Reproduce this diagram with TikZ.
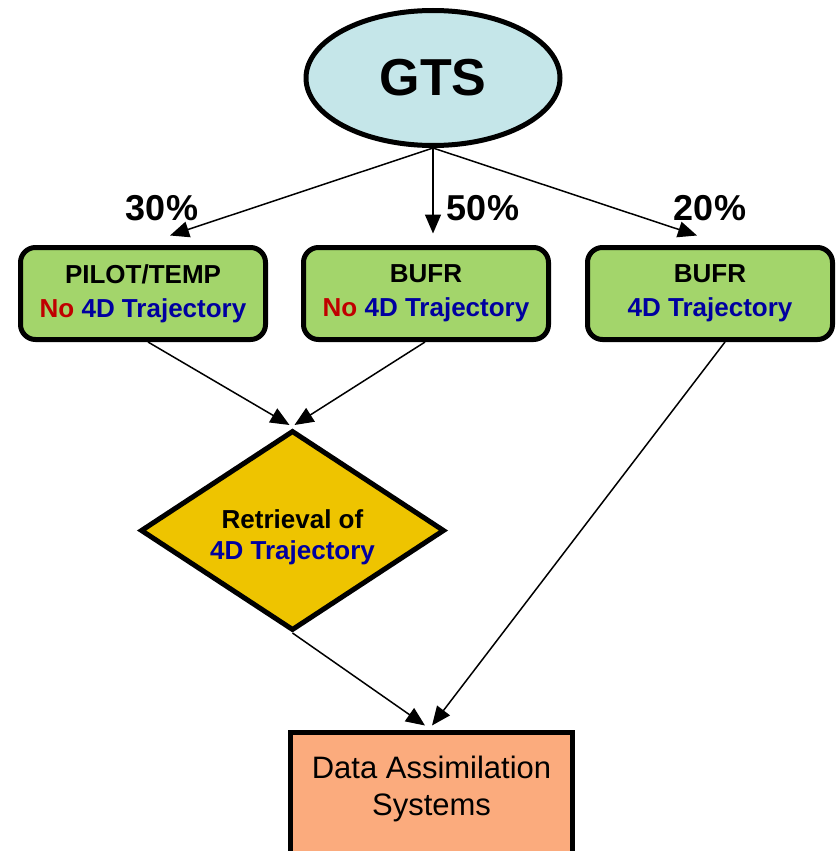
\documentclass[tikz,border=0pt]{standalone}
\usepackage{fontspec}
\setmainfont{Liberation Sans}
\usetikzlibrary{shapes.geometric,arrows.meta}

\definecolor{gtsfill}{HTML}{C5E6E9}
\definecolor{boxgreen}{HTML}{A3D56B}
\definecolor{diagold}{HTML}{EEC400}
\definecolor{dasfill}{HTML}{FBAB7D}
\definecolor{nored}{HTML}{C00000}
\definecolor{trajblue}{HTML}{0000A0}

\newcommand{\nored}[1]{\textcolor{nored}{#1}}
\newcommand{\trajblue}[1]{\textcolor{trajblue}{#1}}

\tikzset{
  x=1pt, y=-1pt,
  srcbox/.style={draw, line width=5pt, fill=boxgreen, rounded corners=15pt,
    minimum width=245pt, minimum height=92pt, inner sep=0pt, align=center,
    font=\fontsize{26}{34}\selectfont\bfseries},
  flow/.style={line width=1.5pt, -{Triangle[length=19pt,width=16pt]}},
  pct/.style={font=\fontsize{36}{40}\selectfont\bfseries, inner sep=0pt},
}

\begin{document}
\begin{tikzpicture}
\useasboundingbox (0,0) rectangle (839,851);
\clip (0,0) rectangle (839,851);

% source
\node[ellipse, draw, line width=5pt, fill=gtsfill, minimum width=254pt,
  minimum height=135pt, inner sep=0pt, font=\fontsize{52}{56}\selectfont\bfseries]
  (gts) at (433,78) {GTS};

% message formats
\node[srcbox] (b1) at (143,293.5) {PILOT/TEMP\\\nored{No} \trajblue{4D Trajectory}};
\node[srcbox] (b2) at (426,293.5) {BUFR\\\nored{No} \trajblue{4D Trajectory}};
\node[srcbox] (b3) at (710,293.5) {BUFR\\\trajblue{4D Trajectory}};

% retrieval step
\node[diamond, draw, line width=5pt, fill=diagold, minimum width=304pt,
  minimum height=200pt, inner sep=0pt] (dia) at (292.5,530.5) {};
\node[align=center, inner sep=0pt, font=\fontsize{26}{31}\selectfont\bfseries]
  (diatext) at (292.5,537) {Retrieval of\\\trajblue{4D Trajectory}};

% assimilation
\node[draw, line width=5pt, fill=dasfill, anchor=north, minimum width=282pt,
  minimum height=140pt, inner sep=0pt] (das) at (431.5,729.5) {};
\node[align=center, font=\fontsize{31}{37}\selectfont, inner sep=0pt]
  (dastext) at (431.5,789) {Data Assimilation\\Systems};

% connectors
\draw[flow] (gts.south) -- ([xshift=27pt,yshift=9.5pt]b1.north);
\draw[flow] (gts.south) -- ([xshift=7pt,yshift=11.5pt]b2.north);
\draw[flow] (gts.south) -- ([xshift=-13pt,yshift=9.5pt]b3.north);

\draw[flow] ([xshift=5pt]b1.south) -- ([xshift=-3pt,yshift=3pt]dia.north);
\draw[flow] ([xshift=-1pt]b2.south) -- ([xshift=2pt,yshift=3pt]dia.north);

\draw[flow] (dia.south) -- ([xshift=-6.5pt,yshift=4pt]das.north);
\draw[flow] ([xshift=15pt]b3.south) -- ([xshift=0.5pt,yshift=4pt]das.north);

% split shares
\node[pct] (p30) at (162,208) {30\%};
\node[pct] (p50) at (483,208) {50\%};
\node[pct] (p20) at (710,208) {20\%};
\end{tikzpicture}
\end{document}
